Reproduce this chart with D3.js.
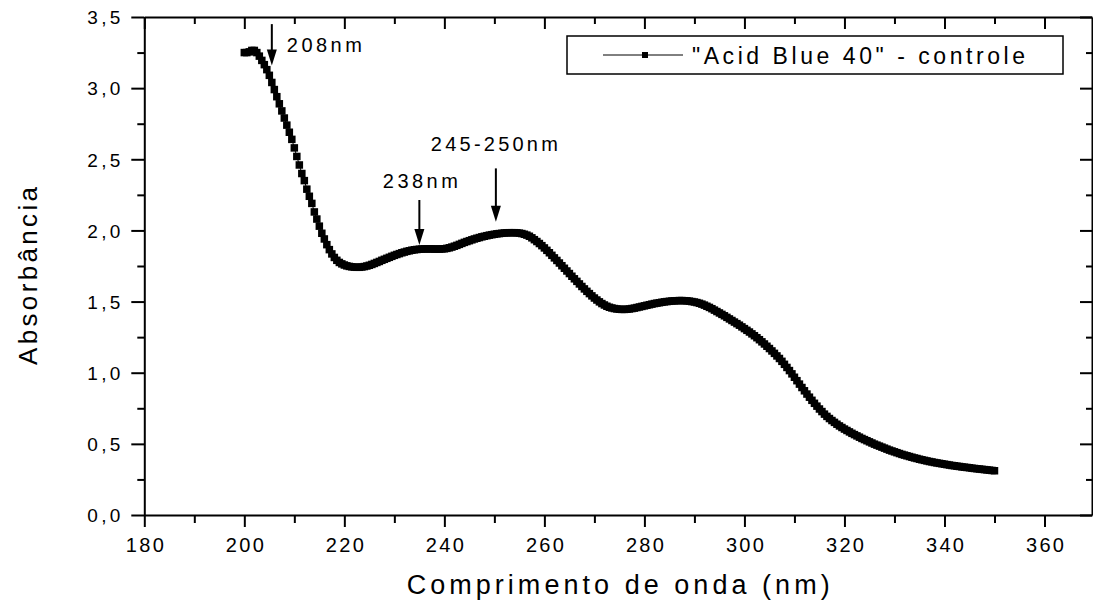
<!DOCTYPE html>
<html><head><meta charset="utf-8">
<script src="https://cdn.jsdelivr.net/npm/d3@7"></script>
<style>
html,body{margin:0;padding:0;background:#fff;}
svg{display:block;}
text{font-family:"Liberation Sans",Arial,sans-serif;fill:#000;}
</style>
</head><body>
<svg id="chart" width="1093" height="604"></svg>
<script>
// ---------- data ----------
const seriesName = '"Acid Blue 40" - controle';
const wavelengthStart = 200;   // nm
const wavelengthStep = 0.5;    // nm
const absorbance = [
  3.250, 3.250, 3.255, 3.265, 3.265, 3.250, 3.225, 3.195, 3.165, 3.130,
  3.090, 3.040, 2.990, 2.940, 2.890, 2.840, 2.790, 2.740, 2.690, 2.640,
  2.580, 2.520, 2.460, 2.400, 2.350, 2.290, 2.240, 2.190, 2.130, 2.080,
  2.030, 1.980, 1.940, 1.900, 1.865, 1.835, 1.810, 1.790, 1.775, 1.765,
  1.757, 1.751, 1.747, 1.744, 1.742, 1.741, 1.741, 1.743, 1.746, 1.750,
  1.755, 1.761, 1.768, 1.775, 1.782, 1.790, 1.797, 1.804, 1.811, 1.818,
  1.825, 1.831, 1.837, 1.843, 1.848, 1.853, 1.857, 1.861, 1.864, 1.866,
  1.868, 1.869, 1.870, 1.870, 1.870, 1.870, 1.869, 1.869, 1.869, 1.870,
  1.871, 1.874, 1.878, 1.883, 1.889, 1.895, 1.902, 1.909, 1.916, 1.922,
  1.928, 1.934, 1.940, 1.945, 1.950, 1.955, 1.959, 1.963, 1.967, 1.970,
  1.973, 1.976, 1.978, 1.980, 1.982, 1.983, 1.984, 1.984, 1.984, 1.983,
  1.981, 1.978, 1.973, 1.967, 1.959, 1.948, 1.935, 1.922, 1.908, 1.893,
  1.877, 1.860, 1.843, 1.825, 1.807, 1.789, 1.771, 1.752, 1.734, 1.715,
  1.697, 1.678, 1.660, 1.642, 1.624, 1.606, 1.589, 1.572, 1.556, 1.540,
  1.525, 1.511, 1.498, 1.486, 1.476, 1.467, 1.460, 1.455, 1.451, 1.448,
  1.446, 1.445, 1.445, 1.446, 1.448, 1.451, 1.454, 1.458, 1.462, 1.466,
  1.470, 1.474, 1.478, 1.482, 1.486, 1.489, 1.492, 1.495, 1.498, 1.500,
  1.502, 1.504, 1.505, 1.506, 1.507, 1.507, 1.506, 1.505, 1.503, 1.500,
  1.497, 1.493, 1.488, 1.482, 1.475, 1.467, 1.459, 1.450, 1.440, 1.430,
  1.420, 1.410, 1.400, 1.389, 1.378, 1.367, 1.356, 1.345, 1.334, 1.322,
  1.310, 1.298, 1.286, 1.273, 1.260, 1.246, 1.232, 1.217, 1.202, 1.186,
  1.170, 1.153, 1.136, 1.118, 1.100, 1.080, 1.059, 1.037, 1.015, 0.992,
  0.968, 0.944, 0.920, 0.896, 0.873, 0.850, 0.828, 0.806, 0.785, 0.765,
  0.745, 0.727, 0.709, 0.693, 0.678, 0.664, 0.651, 0.638, 0.626, 0.615,
  0.604, 0.594, 0.584, 0.574, 0.565, 0.556, 0.547, 0.538, 0.530, 0.522,
  0.514, 0.506, 0.498, 0.491, 0.484, 0.477, 0.470, 0.463, 0.456, 0.450,
  0.444, 0.438, 0.432, 0.426, 0.421, 0.416, 0.411, 0.406, 0.401, 0.397,
  0.392, 0.388, 0.384, 0.380, 0.376, 0.373, 0.369, 0.366, 0.363, 0.360,
  0.357, 0.354, 0.351, 0.348, 0.346, 0.343, 0.341, 0.338, 0.336, 0.334,
  0.332, 0.329, 0.327, 0.325, 0.323, 0.321, 0.319, 0.317, 0.315, 0.313,
  0.311
];
const xTickValues = [180, 200, 220, 240, 260, 280, 300, 320, 340, 360];
const xMinorTickValues = [190, 210, 230, 250, 270, 290, 310, 330, 350];
const yTickValues = [0, 0.5, 1.0, 1.5, 2.0, 2.5, 3.0, 3.5];
const yMinorTickValues = [0.25, 0.75, 1.25, 1.75, 2.25, 2.75, 3.25];
const xTitle = "Comprimento de onda (nm)";
const yTitle = "Absorbância";
const annotationLabels = ["208nm", "238nm", "245-250nm"];
const annotationWavelengths = [205.5, 235.0, 250.3];

// ---------- layout ----------
const plot = {left: 144.3, right: 1092, top: 17, bottom: 515};
const x = d3.scaleLinear().domain([180, 369.5]).range([plot.left, plot.right]);
const y = d3.scaleLinear().domain([0, 3.5]).range([plot.bottom, plot.top]);
const fmt = d => d3.format(".1f")(d).replace(".", ",");

const svg = d3.select("#chart");
const data = absorbance.map((v, i) => ({w: wavelengthStart + i * wavelengthStep, a: v}));

// ---------- curve ----------
const line = d3.line().x(d => x(d.w)).y(d => y(d.a));
svg.append("path").datum(data).attr("d", line)
  .attr("fill", "none").attr("stroke", "#000").attr("stroke-width", 1);
const ms = 7.5;
svg.append("g").selectAll("rect").data(data).join("rect")
  .attr("x", d => x(d.w) - ms / 2).attr("y", d => y(d.a) - ms / 2)
  .attr("width", ms).attr("height", ms).attr("fill", "#000");

// ---------- axes ----------
const axisW = 2;
function styleAxis(g) {
  g.selectAll("path.domain").attr("stroke", "#000").attr("stroke-width", axisW);
  g.selectAll(".tick line").attr("stroke", "#000").attr("stroke-width", axisW);
}
// bottom
const gB = svg.append("g").attr("transform", `translate(0,${plot.bottom})`)
  .call(d3.axisBottom(x).tickValues(xTickValues).tickSize(12).tickSizeOuter(0).tickPadding(10).tickFormat(d3.format("d")));
styleAxis(gB);
gB.selectAll(".tick text").attr("font-size", 20).attr("dy", 0).attr("y", 37)
  .attr("textLength", 38).attr("lengthAdjust", "spacing")
  .attr("font-family", '"Liberation Sans",Arial,sans-serif').attr("fill", "#000");
svg.append("g").attr("transform", `translate(0,${plot.bottom})`)
  .call(d3.axisBottom(x).tickValues(xMinorTickValues).tickSize(8).tickSizeOuter(0).tickFormat(""))
  .call(g => { g.select(".domain").remove(); styleAxis(g); });
// top (inward)
const gT = svg.append("g").attr("transform", `translate(0,${plot.top})`)
  .call(d3.axisBottom(x).tickValues(xTickValues).tickSize(12).tickSizeOuter(0).tickFormat(""));
styleAxis(gT);
svg.append("g").attr("transform", `translate(0,${plot.top})`)
  .call(d3.axisBottom(x).tickValues(xMinorTickValues).tickSize(7).tickSizeOuter(0).tickFormat(""))
  .call(g => { g.select(".domain").remove(); styleAxis(g); });
// left
const gL = svg.append("g").attr("transform", `translate(${plot.left},0)`)
  .call(d3.axisLeft(y).tickValues(yTickValues).tickSize(13).tickSizeOuter(0).tickPadding(11).tickFormat(fmt));
styleAxis(gL);
gL.selectAll(".tick text").attr("font-size", 19).attr("dy", "0.36em")
  .attr("textLength", 33).attr("lengthAdjust", "spacing")
  .attr("font-family", '"Liberation Sans",Arial,sans-serif').attr("fill", "#000");
svg.append("g").attr("transform", `translate(${plot.left},0)`)
  .call(d3.axisLeft(y).tickValues(yMinorTickValues).tickSize(7).tickSizeOuter(0).tickFormat(""))
  .call(g => { g.select(".domain").remove(); styleAxis(g); });
// right (inward)
const gR = svg.append("g").attr("transform", `translate(${plot.right},0)`)
  .call(d3.axisRight(y).tickValues(yTickValues).tickSize(-12).tickSizeOuter(0).tickFormat(""));
styleAxis(gR);
svg.append("g").attr("transform", `translate(${plot.right},0)`)
  .call(d3.axisRight(y).tickValues(yMinorTickValues).tickSize(-6).tickSizeOuter(0).tickFormat(""))
  .call(g => { g.select(".domain").remove(); styleAxis(g); });

// ---------- titles ----------
svg.append("text").text(xTitle)
  .attr("x", (plot.left + plot.right) / 2).attr("y", 594)
  .attr("text-anchor", "middle").attr("font-size", 27)
  .attr("textLength", 423).attr("lengthAdjust", "spacing");
svg.append("text").text(yTitle)
  .attr("transform", `translate(37,${(plot.top + plot.bottom) / 2 + 10}) rotate(-90)`)
  .attr("text-anchor", "middle").attr("font-size", 26)
  .attr("textLength", 178).attr("lengthAdjust", "spacing");

// ---------- annotations ----------
const arrowSpec = [
  {top: 3.45, tip: 3.16, tx: 208.5, ty: 3.256, tl: 75},
  {top: 2.214, tip: 1.897, tx: 227.7, ty: 2.298, tl: 75},
  {top: 2.436, tip: 2.061, tx: 237.3, ty: 2.558, tl: 127}
];
annotationLabels.forEach((lab, i) => {
  const s = arrowSpec[i];
  const ax = x(annotationWavelengths[i]);
  const y0 = y(s.top), y1 = y(s.tip);
  svg.append("line").attr("x1", ax).attr("x2", ax).attr("y1", y0).attr("y2", y1 - 10)
    .attr("stroke", "#000").attr("stroke-width", 2);
  svg.append("path")
    .attr("d", `M${ax - 5},${y1 - 16} L${ax + 5},${y1 - 16} L${ax},${y1} Z`)
    .attr("fill", "#000");
  svg.append("text").text(lab).attr("x", x(s.tx)).attr("y", y(s.ty))
    .attr("font-size", 20).attr("textLength", s.tl).attr("lengthAdjust", "spacing");
});

// ---------- legend ----------
const lg = svg.append("g");
lg.append("rect").attr("x", 567).attr("y", 36).attr("width", 496).attr("height", 38)
  .attr("fill", "#fff").attr("stroke", "#000").attr("stroke-width", 1.5);
lg.append("line").attr("x1", 603).attr("x2", 683).attr("y1", 55).attr("y2", 55)
  .attr("stroke", "#000").attr("stroke-width", 1);
lg.append("rect").attr("x", 645 - 3).attr("y", 55 - 3).attr("width", 6).attr("height", 6).attr("fill", "#000");
lg.append("text").text(seriesName).attr("x", 692).attr("y", 64)
  .attr("font-size", 23).attr("textLength", 333).attr("lengthAdjust", "spacing");
</script>
</body></html>
